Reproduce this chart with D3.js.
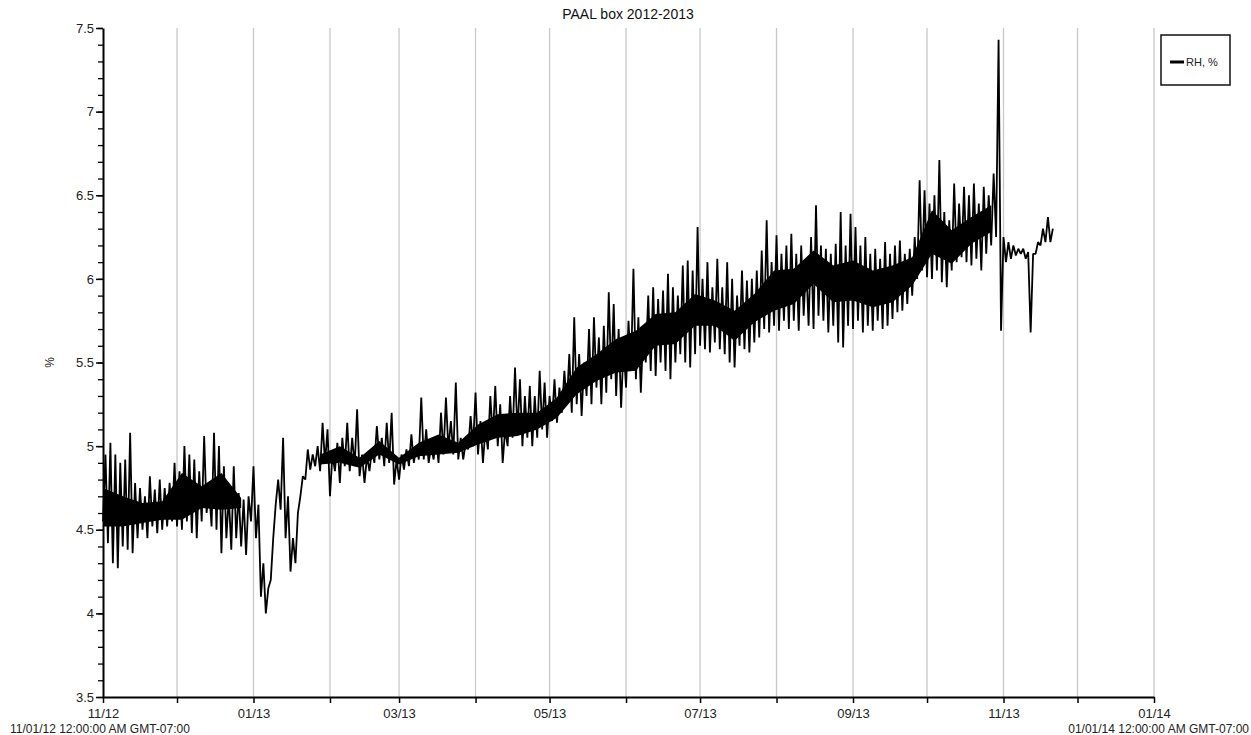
<!DOCTYPE html>
<html>
<head>
<meta charset="utf-8">
<script src="https://cdn.jsdelivr.net/npm/d3@7"></script>
<style>
  body { margin: 0; background: #fff; }
  svg { font-family: "Liberation Sans", Arial, sans-serif; }
</style>
</head>
<body>
<div class="chart"></div>
<script>
// RH readings: one low and one high every 2 days from 11/01/12
var startDate = new Date(Date.UTC(2012, 10, 1));
var stepDays = 2;

var rhLow = [
  4.55, 4.42, 4.30, 4.27, 4.40, 4.38, 4.36, 4.45, 4.50, 4.45,
  4.52, 4.48, 4.50, 4.52, 4.55, 4.52, 4.50, 4.55, 4.48, 4.45,
  4.55, 4.60, 4.52, 4.50, 4.36, 4.45, 4.38, 4.45, 4.40, 4.35,
  4.55, 4.45, 4.10, 4.00, 4.20, 4.65, 4.62, 4.45, 4.25, 4.30,
  4.70, 4.80, 4.86, 4.88, 4.85, 4.90, 4.70, 4.85, 4.78, 4.88,
  4.85, 4.88, 4.82, 4.78, 4.85, 4.90, 4.92, 4.88, 4.90, 4.77,
  4.80, 4.86, 4.88, 4.90, 4.92, 4.92, 4.90, 4.92, 4.90, 4.95,
  4.98, 4.95, 4.92, 4.92, 4.98, 5.00, 4.95, 4.90, 4.98, 5.05,
  5.00, 4.90, 5.00, 5.05, 5.08, 5.00, 5.05, 5.00, 5.05, 5.10,
  5.05, 5.15, 5.14, 5.20, 5.25, 5.20, 5.25, 5.18, 5.30, 5.25,
  5.35, 5.25, 5.32, 5.40, 5.30, 5.23, 5.35, 5.45, 5.40, 5.32,
  5.50, 5.45, 5.42, 5.50, 5.45, 5.40, 5.50, 5.55, 5.50, 5.47,
  5.55, 5.60, 5.58, 5.56, 5.62, 5.58, 5.55, 5.50, 5.47, 5.60,
  5.58, 5.56, 5.62, 5.65, 5.70, 5.68, 5.72, 5.69, 5.75, 5.70,
  5.75, 5.69, 5.78, 5.72, 5.70, 5.78, 5.75, 5.68, 5.72, 5.62,
  5.59, 5.72, 5.70, 5.75, 5.68, 5.72, 5.69, 5.75, 5.70, 5.72,
  5.76, 5.80, 5.81, 5.85, 5.90, 6.00, 6.05, 6.01, 6.00, 6.05,
  5.98, 5.95, 6.05, 6.10, 6.13, 6.10, 6.08, 6.12, 6.05, 6.15,
  6.20, 6.25, 5.69, 6.10, 6.12, 6.14, 6.15, 6.12, 5.68, 6.15,
  6.20, 6.22, 6.22
];

var rhHigh = [
  4.95, 5.02, 4.95, 4.90, 4.92, 5.08, 4.78, 4.75, 4.70, 4.82,
  4.74, 4.80, 4.75, 4.78, 4.90, 4.85, 5.00, 4.95, 4.92, 4.85,
  5.06, 4.75, 5.08, 5.00, 4.88, 4.70, 4.88, 4.72, 4.68, 4.70,
  4.88, 4.65, 4.30, 4.15, 4.45, 4.80, 5.05, 4.70, 4.45, 4.60,
  4.82, 4.98, 4.95, 5.00, 5.14, 5.10, 4.95, 5.02, 5.05, 5.14,
  5.05, 5.22, 4.95, 4.94, 4.98, 5.12, 5.05, 5.14, 5.20, 4.92,
  4.95, 4.98, 5.07, 5.00, 5.29, 5.10, 5.00, 5.05, 5.20, 5.29,
  5.15, 5.38, 5.05, 5.02, 5.18, 5.32, 5.15, 5.10, 5.30, 5.36,
  5.25, 5.10, 5.30, 5.47, 5.40, 5.30, 5.36, 5.30, 5.45, 5.38,
  5.30, 5.40, 5.35, 5.45, 5.55, 5.77, 5.55, 5.50, 5.70, 5.77,
  5.65, 5.72, 5.92, 5.85, 5.70, 5.60, 5.75, 6.06, 5.77, 5.70,
  5.90, 5.95, 5.88, 5.93, 6.03, 5.95, 5.90, 6.08, 6.11, 6.05,
  6.31, 6.00, 6.10, 5.95, 6.12, 5.95, 6.10, 6.00, 5.90, 6.05,
  5.99, 6.00, 6.05, 6.17, 6.35, 6.10, 6.26, 6.15, 6.20, 6.27,
  6.15, 6.20, 6.10, 6.25, 6.44, 6.20, 6.18, 6.15, 6.21, 6.40,
  6.20, 6.39, 6.31, 6.20, 6.25, 6.15, 6.18, 6.12, 6.22, 6.15,
  6.20, 6.23, 6.15, 6.18, 6.25, 6.59, 6.53, 6.45, 6.50, 6.71,
  6.40, 6.35, 6.57, 6.45, 6.55, 6.50, 6.57, 6.45, 6.55, 6.50,
  6.63, 7.43, 6.25, 6.22, 6.20, 6.18, 6.18, 6.16, 6.15, 6.22,
  6.30, 6.37, 6.30
];

// dense core of the trace (where the readings overlap into solid black), every 8 days;
// null where the trace is only thin lines (January dip, after mid-November)
var coreStep = 8;
var coreLow = [
  4.52, 4.52, 4.54, 4.56, 4.56, 4.63, 4.62, 4.63, null, null,
  null, 4.89, 4.90, 4.87, 4.95, 4.89, 4.94, 4.95, 4.96, 5.01,
  5.05, 5.06, 5.10, 5.17, 5.31, 5.39, 5.44, 5.45, 5.60, 5.61,
  5.72, 5.72, 5.63, 5.74, 5.81, 5.85, 5.97, 5.86, 5.87, 5.83,
  5.86, 5.96, 6.15, 6.09, 6.21, 6.28, null, null, null
];
var coreHigh = [
  4.75, 4.70, 4.66, 4.67, 4.84, 4.76, 4.84, 4.69, null, null,
  null, 4.95, 5.00, 4.93, 5.03, 4.93, 5.02, 5.07, 5.02, 5.13,
  5.19, 5.20, 5.20, 5.29, 5.47, 5.55, 5.64, 5.69, 5.79, 5.80,
  5.91, 5.87, 5.81, 5.91, 6.05, 6.06, 6.17, 6.08, 6.11, 6.05,
  6.08, 6.13, 6.41, 6.29, 6.37, 6.44, null, null, null
];

var yTicks = [3.5, 4, 4.5, 5, 5.5, 6, 6.5, 7, 7.5];
var startLabel = "11/01/12 12:00:00 AM GMT-07:00";
var endLabel = "01/01/14 12:00:00 AM GMT-07:00";
var seriesName = "RH, %";

var w = 1251;
var h = 735;
var plotL = 103, plotR = 1154, plotT = 28, plotB = 697;

var dayMs = 24 * 3600 * 1000;
var points = [];
for (var k = 0; k < rhLow.length; k++) {
  var t = startDate.getTime() + k * stepDays * dayMs;
  points.push({ date: new Date(t), v: rhLow[k] });
  points.push({ date: new Date(t + dayMs), v: rhHigh[k] });
}
var core = coreLow.map(function(lo, i) {
  return { date: new Date(startDate.getTime() + i * coreStep * dayMs), lo: lo, hi: coreHigh[i] };
});

var svg = d3.select(".chart")
  .append("svg")
  .attr("width", w)
  .attr("height", h);

var x = d3.scaleUtc()
  .domain([startDate, new Date(Date.UTC(2014, 0, 1))])
  .range([plotL, plotR]);

var y = d3.scaleLinear()
  .domain([3.5, 7.5])
  .range([plotB, plotT]);

var months = d3.utcMonth.range(x.domain()[0], d3.utcMonth.offset(x.domain()[1], 1));
var fmt = d3.utcFormat("%m/%y");

// month grid lines
svg.append("g")
  .selectAll("line")
  .data(months.slice(1))
  .enter()
  .append("line")
  .attr("x1", function(d) { return x(d); })
  .attr("x2", function(d) { return x(d); })
  .attr("y1", plotT)
  .attr("y2", plotB)
  .attr("stroke", "#c8c8c8")
  .attr("stroke-width", 1.3);

// solid core of the trace
var area = d3.area()
  .defined(function(d) { return d.lo != null; })
  .x(function(d) { return x(d.date); })
  .y0(function(d) { return y(d.lo); })
  .y1(function(d) { return y(d.hi); });

svg.append("path")
  .datum(core)
  .attr("d", area)
  .attr("fill", "#000");

// data line
var line = d3.line()
  .x(function(d) { return x(d.date); })
  .y(function(d) { return y(d.v); });

svg.append("path")
  .datum(points)
  .attr("d", line)
  .attr("fill", "none")
  .attr("stroke", "#000")
  .attr("stroke-width", 1.8)
  .attr("stroke-linejoin", "bevel");

// x axis
var xAxis = d3.axisBottom(x)
  .tickValues(months)
  .tickSizeInner(6)
  .tickSizeOuter(0)
  .tickFormat(function(d, i) { return i % 2 == 0 ? fmt(d) : ""; });

var gx = svg.append("g")
  .attr("transform", "translate(0," + plotB + ")")
  .call(xAxis);
gx.select(".domain").attr("stroke-width", 2);
gx.selectAll(".tick line").attr("stroke-width", 1.5);
gx.selectAll("text")
  .attr("font-size", "13px")
  .attr("fill", "#222")
  .attr("dy", "0.95em");

// y axis: minor ticks every 0.1
var yMinor = d3.axisLeft(y)
  .ticks(40)
  .tickSizeInner(5)
  .tickSizeOuter(0)
  .tickFormat("");
svg.append("g")
  .attr("transform", "translate(" + plotL + ",0)")
  .call(yMinor)
  .call(function(g) { g.select(".domain").remove(); })
  .selectAll(".tick line").attr("stroke-width", 1.3);

var yAxis = d3.axisLeft(y)
  .tickValues(yTicks)
  .tickSizeInner(7)
  .tickSizeOuter(0)
  .tickPadding(2)
  .tickFormat(d3.format(""));
var gy = svg.append("g")
  .attr("transform", "translate(" + plotL + ",0)")
  .call(yAxis);
gy.select(".domain").attr("stroke-width", 2);
gy.selectAll(".tick line").attr("stroke-width", 1.5);
gy.selectAll("text")
  .attr("font-size", "13px")
  .attr("fill", "#222");

// y label
svg.append("text")
  .attr("transform", "translate(54," + ((plotT + plotB) / 2) + ") rotate(-90)")
  .attr("text-anchor", "middle")
  .attr("font-size", "12px")
  .attr("fill", "#222")
  .text("%");

// title
svg.append("text")
  .attr("x", 628)
  .attr("y", 19)
  .attr("text-anchor", "middle")
  .attr("font-size", "14px")
  .attr("fill", "#111")
  .text("PAAL box 2012-2013");

// start / end stamps
svg.append("text")
  .attr("x", 10)
  .attr("y", 733)
  .attr("font-size", "12px")
  .attr("fill", "#222")
  .text(startLabel);
svg.append("text")
  .attr("x", 1249)
  .attr("y", 733)
  .attr("text-anchor", "end")
  .attr("font-size", "12px")
  .attr("fill", "#222")
  .text(endLabel);

// legend
var lg = svg.append("g");
lg.append("rect")
  .attr("x", 1161)
  .attr("y", 35)
  .attr("width", 69)
  .attr("height", 50)
  .attr("fill", "#fff")
  .attr("stroke", "#111")
  .attr("stroke-width", 1.5);
lg.append("line")
  .attr("x1", 1170).attr("x2", 1184)
  .attr("y1", 62).attr("y2", 62)
  .attr("stroke", "#000")
  .attr("stroke-width", 3);
lg.append("text")
  .attr("x", 1186)
  .attr("y", 66)
  .attr("font-size", "11px")
  .attr("fill", "#222")
  .text(seriesName);
</script>
</body>
</html>
